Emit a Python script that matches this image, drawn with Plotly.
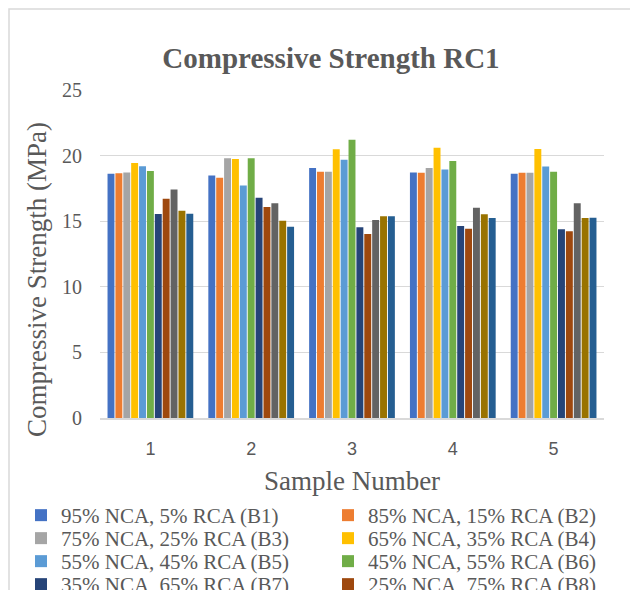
import plotly.graph_objects as go

samples = ["1", "2", "3", "4", "5"]

series_names = [
    "95% NCA, 5% RCA (B1)",
    "85% NCA, 15% RCA (B2)",
    "75% NCA, 25% RCA (B3)",
    "65% NCA, 35% RCA (B4)",
    "55% NCA, 45% RCA (B5)",
    "45% NCA, 55% RCA (B6)",
    "35% NCA, 65% RCA (B7)",
    "25% NCA, 75% RCA (B8)",
    "15% NCA, 85% RCA (B9)",
    "5% NCA, 95% RCA (B10)",
    "0% NCA, 100% RCA (B11)",
]

b1 = [18.62, 18.49, 19.05, 18.72, 18.62]
b2 = [18.65, 18.31, 18.77, 18.70, 18.70]
b3 = [18.72, 19.80, 18.77, 19.05, 18.70]
b4 = [19.43, 19.74, 20.49, 20.59, 20.51]
b5 = [19.18, 17.73, 19.69, 18.95, 19.16]
b6 = [18.82, 19.80, 21.20, 19.59, 18.77]
b7 = [15.54, 16.78, 14.53, 14.64, 14.38]
b8 = [16.71, 16.09, 14.02, 14.43, 14.23]
b9 = [17.42, 16.37, 15.10, 16.02, 16.37]
b10 = [15.79, 15.04, 15.38, 15.53, 15.25]
b11 = [15.56, 14.58, 15.38, 15.25, 15.27]

series_values = [b1, b2, b3, b4, b5, b6, b7, b8, b9, b10, b11]

colors = ["#4472C4", "#ED7D31", "#A5A5A5", "#FFC000", "#5B9BD5", "#70AD47",
          "#264478", "#9E480E", "#636363", "#997300", "#255E91"]

W, H = 630, 590
L, R, T, B = 100, 26, 90, 172
plot_h = H - T - B


def py(pixel_y):
    return (H - B - pixel_y) / plot_h


def px(pixel_x):
    return (pixel_x - L) / (W - L - R)


serif = "Liberation Serif, Times New Roman, serif"
gray = "#595959"

fig = go.Figure()
legend_layouts = {}
for i, (name, vals, col) in enumerate(zip(series_names, series_values, colors)):
    key = "legend" if i == 0 else f"legend{i + 1}"
    fig.add_trace(go.Bar(x=samples, y=vals, name=name, legend=key,
                         marker=dict(color=col, line=dict(width=0))))
    row, c = divmod(i, 2)
    text_left = 61 if c == 0 else 368
    legend_layouts[key] = dict(
        orientation="v", x=px(text_left - 40), xanchor="left",
        y=py(516 + 23 * row - 21), yanchor="top",
        font=dict(family=serif, size=21, color=gray),
        itemwidth=30, bgcolor="rgba(0,0,0,0)", borderwidth=0,
        maxheight=1,
    )

fig.update_layout(
    width=W, height=H,
    margin=dict(l=L, r=R, t=T, b=B, autoexpand=False),
    paper_bgcolor="white", plot_bgcolor="white",
    barmode="group", bargap=0.14, bargroupgap=0.12,
    title=dict(text="<b>Compressive Strength RC1</b>", x=331 / W, xanchor="center",
               y=1 - 58 / H, yanchor="middle",
               font=dict(family=serif, size=29, color=gray)),
    font=dict(family=serif, color=gray),
    xaxis=dict(showline=True, linecolor="#D9D9D9", linewidth=1.5,
               ticks="", tickfont=dict(family="Liberation Sans, Arial, sans-serif",
                                       size=18, color=gray),
               ticklabelstandoff=14,
               title=dict(text="Sample Number", standoff=13,
                          font=dict(family=serif, size=27, color=gray))),
    yaxis=dict(range=[0, 25], dtick=5, showgrid=True, gridcolor="#D9D9D9",
               gridwidth=1, zeroline=False, showline=False, ticks="",
               tickfont=dict(family=serif, size=20, color=gray),
               ticklabelstandoff=17),
    annotations=[dict(text="Compressive Strength (MPa)", textangle=-90,
                      xref="paper", yref="paper", x=px(37), y=py(280),
                      xanchor="center", yanchor="middle", showarrow=False,
                      font=dict(family=serif, size=27, color=gray))],
    shapes=[dict(type="rect", xref="paper", yref="paper",
                 x0=px(9), x1=px(660), y0=py(700), y1=py(9),
                 line=dict(color="#D9D9D9", width=1.5), fillcolor="rgba(0,0,0,0)",
                 layer="below")],
    showlegend=True,
    **legend_layouts,
)

fig.write_html("out.html")
